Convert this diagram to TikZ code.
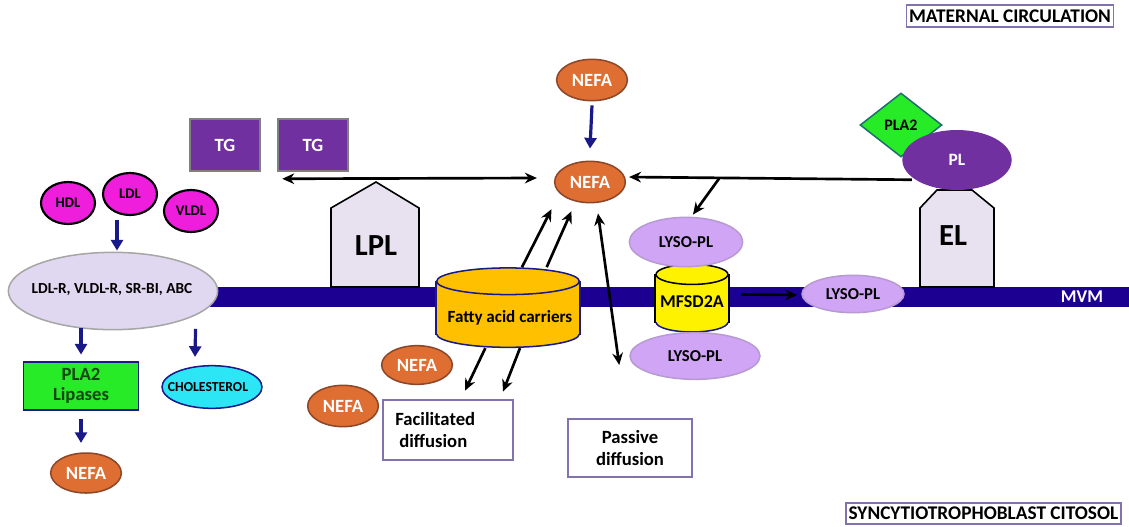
\documentclass[tikz,border=0pt]{standalone}
\usepackage{fontspec}
\setmainfont{Carlito}
\usetikzlibrary{shapes.geometric,arrows.meta}
\definecolor{mvmBlue}{RGB}{28,0,145}
\definecolor{arrowNavy}{RGB}{25,25,135}
\definecolor{tgPurple}{RGB}{112,48,160}
\definecolor{nefaOrange}{RGB}{222,110,50}
\definecolor{nefaEdge}{RGB}{140,70,40}
\definecolor{lipoPink}{RGB}{238,30,220}
\definecolor{recLilac}{RGB}{224,216,240}
\definecolor{lysoLilac}{RGB}{208,165,245}
\definecolor{enzLilac}{RGB}{232,226,240}
\definecolor{plaGreen}{RGB}{40,235,40}
\definecolor{plaEdge}{RGB}{30,110,110}
\definecolor{cholCyan}{RGB}{45,230,245}
\definecolor{carrierGold}{RGB}{255,192,0}
\definecolor{boxEdge}{RGB}{130,115,175}
\definecolor{darkGreen}{RGB}{20,70,20}
\begin{document}
\begin{tikzpicture}[x=.75pt, y=-.75pt, text centered, line width=.4mm,
	every node/.style={font=\bfseries, inner sep=0pt, align=center},
	nefa/.style={ellipse, draw=nefaEdge, fill=nefaOrange, text=white, minimum width=53pt, minimum height=31pt, font=\fontsize{14}{14}\selectfont\bfseries},
	lipo/.style={ellipse, draw=black, line width=1.6pt, fill=lipoPink, minimum width=40.5pt, minimum height=31.5pt, font=\fontsize{11}{11}\selectfont\bfseries},
	lyso/.style={ellipse, draw=lysoLilac!70!gray, fill=lysoLilac, minimum width=85pt, minimum height=36pt, font=\fontsize{12.5}{12.5}\selectfont\bfseries},
	tg/.style={draw=black!50, fill=tgPurple, text=white, minimum width=52.5pt, minimum height=39pt, font=\fontsize{14}{14}\selectfont\bfseries},
	enzyme/.style={draw=black, fill=enzLilac, line width=1.2pt},
	tag/.style={draw=boxEdge, line width=1.3pt, minimum height=16pt, inner xsep=2pt, font=\fontsize{14.5}{14.5}\selectfont\bfseries},
	diffusion/.style={draw=boxEdge, line width=2pt, fill=white, font=\fontsize{14}{16}\selectfont\bfseries},
	blueArrow/.style={draw=arrowNavy, line width=2.4pt, -{Triangle[length=8pt, width=9pt]}},
	flux/.style={line width=2pt, -{Stealth[length=9pt, width=8pt]}},
	dflux/.style={line width=2pt, {Stealth[length=9pt, width=8pt]}-{Stealth[length=9pt, width=8pt]}}]
	\useasboundingbox (0,0) rectangle (1129,526);
	\fill[mvmBlue] (200,287) rectangle (1129,307);
	\node[text=white, font=\fontsize{13.5}{13.5}\selectfont\bfseries] (mvm) at (1082,297) {MVM};
	\node[tag] (maternal) at (1010,16) {MATERNAL CIRCULATION};
	\node[tag] (citosol) at (983.5,513.5) {SYNCYTIOTROPHOBLAST CITOSOL};

	\node[lipo] (hdl) at (68,203) {HDL};
	\node[lipo] (ldl) at (130,194) {LDL};
	\node[lipo] (vldl) at (191,211) {VLDL};
	\node[ellipse, draw=gray!70, fill=recLilac, minimum width=157pt, minimum height=58pt] (receptor) at (113,291) {};
	\node[font=\fontsize{11.5}{11.5}\selectfont\bfseries] (receptorText) at (112,290) {LDL-R, VLDL-R, SR-BI, ABC};
	\node[draw=arrowNavy, fill=plaGreen, text=darkGreen, minimum width=86pt, minimum height=36pt, font=\fontsize{14}{15}\selectfont\bfseries] (lipases) at (81,386) {PLA2\\Lipases};
	\node[ellipse, draw=arrowNavy, fill=cholCyan, minimum width=75pt, minimum height=32pt] (cholesterol) at (212,387) {};
	\node[font=\fontsize{10.3}{10.3}\selectfont\bfseries] (cholText) at (208,387) {CHOLESTEROL};
	\node[nefa, minimum height=30pt] (nefaLow) at (86,473) {NEFA};
	\draw[blueArrow] ([shift={(-13,4)}]ldl.south) -- ([shift={(4,-1)}]receptor.north);
	\draw[blueArrow] (lipases.north |- receptor.south) ++(0,-2) -- ([yshift=5pt]lipases.north);
	\draw[blueArrow] ([shift={(8,10)}]receptor.south east) -- ([shift={(-17,-8)}]cholesterol.north);
	\draw[blueArrow] ([yshift=-6pt]lipases.south) -- ([yshift=7pt]lipases.south |- nefaLow.north);

	\node[tg] (tgA) at (225,145) {TG};
	\node[tg] (tgB) at (313,145) {TG};
	\draw[enzyme] (331,287) -- (331,208) -- (376,182) -- (419,208) -- (419,287) -- cycle;
	\node[font=\fontsize{23}{23}\selectfont\bfseries] (lplText) at (376,246) {LPL};

	\node[nefa] (nefaTop) at (592,80) {NEFA};
	\node[nefa] (nefaMid) at (590,182) {NEFA};
	\draw[blueArrow] ([yshift=-3pt]nefaTop.south) -- ([yshift=9pt]nefaMid.north);
	\draw[dflux] ([shift={(5,7)}]tgB.south west) -- ([shift={(-17,-4)}]nefaMid.west);

	\node[diamond, draw=plaEdge, fill=plaGreen, minimum width=61.5pt, minimum height=48pt, font=\fontsize{12}{12}\selectfont\bfseries] (pla) at (901,125) {PLA2};
	\draw[enzyme] (920,287) -- (920,208) -- (937,190) -- (972,190) -- (994,208) -- (994,287) -- cycle;
	\node[ellipse, fill=tgPurple, text=white, minimum width=82pt, minimum height=45pt, font=\fontsize{13}{13}\selectfont\bfseries] (pl) at (957,160) {PL};
	\node[font=\fontsize{23}{23}\selectfont\bfseries] (elText) at (953,236) {EL};
	\draw[flux] ([shift={(-6,-2)}]pl.south west) -- coordinate[pos=.68] (branch) ([shift={(3,-5)}]nefaMid.east);

	\node[ellipse, draw=arrowNavy, fill=yellow, minimum width=54pt, minimum height=15pt] (mfsdBase) at (692,322) {};
	\node[fill=yellow, minimum width=54pt, minimum height=35pt] (mfsd) at (692,298.5) {};
	\draw (mfsd.north west) -- (mfsd.south west) (mfsd.north east) -- (mfsd.south east);
	\node[ellipse, draw=black, fill=yellow, minimum width=54pt, minimum height=15pt] (mfsdTop) at (mfsd.north) {};
	\node[font=\fontsize{13.5}{13.5}\selectfont\bfseries] (mfsdText) at (692,302) {MFSD2A};
	\node[lyso, minimum height=37pt] (lysoTop) at (686,242) {LYSO-PL};
	\node[lyso, minimum width=97.5pt, minimum height=35pt] (lysoBottom) at (695,356) {LYSO-PL};
	\node[lyso, minimum width=76.5pt, minimum height=28pt] (lysoRight) at (853,294) {LYSO-PL};
	\draw[flux] (branch) -- ([shift={(7,-2)}]lysoTop.north);
	\draw[flux] ([shift={(12,-4)}]mfsd.east) -- ([shift={(-4,1)}]lysoRight.west);

	\node[ellipse, draw=arrowNavy, fill=carrierGold, minimum width=107pt, minimum height=20pt] (carrierBase) at (508,334) {};
	\node[fill=carrierGold, minimum width=107pt, minimum height=39pt] (carrier) at (508,308) {};
	\draw[arrowNavy] (carrier.north west) -- (carrier.south west) (carrier.north east) -- (carrier.south east);
	\node[ellipse, draw=arrowNavy, fill=carrierGold, minimum width=107pt, minimum height=20pt] (carrierTop) at (carrier.north) {};
	\node[font=\fontsize{12.8}{12.8}\selectfont\bfseries] (carrierText) at (510,318) {Fatty acid carriers};
	\draw[flux] ([xshift=10.5pt]carrierTop.north) -- ([shift={(-13,12)}]nefaMid.south west);
	\draw[flux] ([xshift=29pt]carrierTop.north) -- ([shift={(7,14)}]nefaMid.south west);
	\draw[dflux] ([shift={(8,10)}]nefaMid.south) -- ([shift={(-10,9)}]lysoBottom.west);

	\node[nefa, minimum height=29pt] (nefaC) at (417,365) {NEFA};
	\node[nefa] (nefaD) at (343,406) {NEFA};
	\node[diffusion, minimum width=97.5pt, minimum height=45pt, text width=79pt, inner xsep=9.25pt, align=left] (facilitated) at (448,430) {Facilitated\\\hspace*{3pt}diffusion};
	\node[diffusion, minimum width=93pt, minimum height=43.5pt] (passive) at (630,448) {Passive\\diffusion};
	\draw[flux] ([xshift=-17pt]carrierBase.south) -- ([shift={(17,-8)}]facilitated.north);
	\draw[flux] ([xshift=9pt]carrierBase.south) -- ([shift={(55,-7)}]facilitated.north);
\end{tikzpicture}
\end{document}
